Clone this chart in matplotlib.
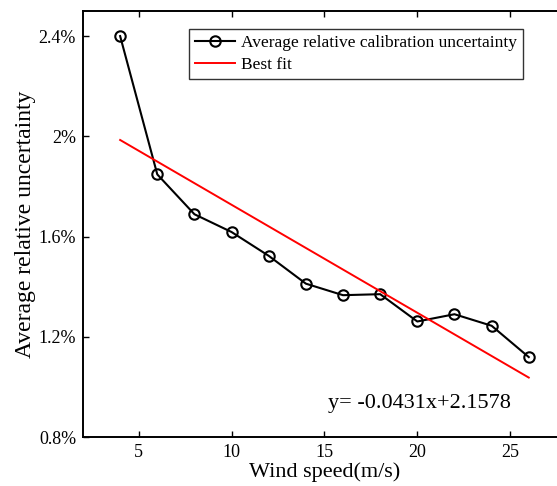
import matplotlib
matplotlib.use('Agg')
import matplotlib.pyplot as plt
import numpy as np

# wind speed (m/s) and average relative calibration uncertainty (%)
wind_speed = [4, 6, 8, 10, 12, 14, 16, 18, 20, 22, 24, 26]
uncertainty = [2.40, 1.848, 1.689, 1.618, 1.523, 1.412, 1.366, 1.370, 1.261, 1.290, 1.244, 1.119]

# best fit line from the label
fit_slope = -0.0431
fit_intercept = 2.1578
fit_x = [4, 26]

x_ticks = [5, 10, 15, 20, 25]
y_ticks = [0.8, 1.2, 1.6, 2.0, 2.4]
y_tick_labels = ['0.8%', '1.2%', '1.6%', '2%', '2.4%']

plt.rcParams['font.family'] = ['Liberation Serif', 'DejaVu Serif']

fig = plt.figure(figsize=(5.57, 4.86), dpi=100)
ax = fig.add_axes([0.149, 0.1008, 0.867, 0.8765])

ax.plot(wind_speed, uncertainty, color='black', linewidth=1.5, marker='o',
        markersize=7.5, markerfacecolor='none', markeredgewidth=1.5,
        label='Average relative calibration uncertainty')
fit_y = [fit_slope * x + fit_intercept for x in fit_x]
ax.plot(fit_x, fit_y, color='red', linewidth=1.4, label='Best fit')

ax.set_xlim(2, 28)
ax.set_ylim(0.8, 2.5)
ax.set_xticks(x_ticks)
ax.set_yticks(y_ticks)
ax.set_yticklabels(y_tick_labels)
ax.tick_params(direction='in', length=4, width=1, labelsize=13, pad=5)
ax.tick_params(top=True, right=True)
for s in ax.spines.values():
    s.set_linewidth(1.4)

ax.set_xlabel('Wind speed(m/s)', fontsize=16, labelpad=1)
ax.set_ylabel('Average relative uncertainty', fontsize=17, labelpad=2)

ax.text(15.2, 0.916, 'y= -0.0431x+2.1578', fontsize=16)

leg = ax.legend(loc='upper left', bbox_to_anchor=(0.2195, 0.958), fontsize=12.5,
                frameon=True, fancybox=False, edgecolor='black',
                borderpad=0.35, handlelength=2.3, labelspacing=0.35,
                handletextpad=0.35, borderaxespad=0)
leg.get_frame().set_linewidth(1.0)

fig.savefig('out.png', dpi=100)
